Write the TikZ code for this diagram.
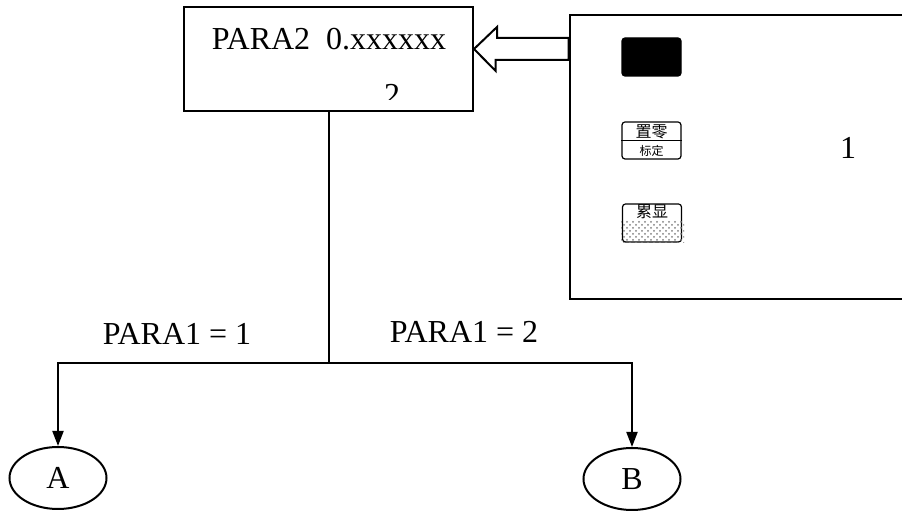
\documentclass[tikz,border=0pt]{standalone}
\usepackage{fontspec}
\setmainfont{Liberation Serif}
\newfontfamily\cjk{Noto Sans CJK SC}
\usetikzlibrary{arrows.meta, positioning, shapes.geometric, patterns}

\begin{document}
\begin{tikzpicture}[
    x=0.5pt, y=-0.5pt,
    >={Triangle[length=7.5pt, width=5.5pt]},
    line width=1pt,
    box/.style={
        draw, rectangle, inner sep=0pt, line width=1pt
    },
    oval/.style={
        draw, ellipse, inner sep=0pt, minimum width=48.5pt, minimum height=31pt,
        font=\fontsize{16}{19}\selectfont
    },
    label/.style={
        anchor=base, inner sep=0pt, font=\fontsize{16}{19}\selectfont
    },
    keycap/.style={
        draw, rectangle, rounded corners=1.5pt, inner sep=0pt, line width=0.6pt,
        minimum width=29.5pt
    },
    keytext/.style={
        inner sep=0pt, font=\cjk\fontsize{8}{9}\selectfont
    },
]
\clip (0,0) rectangle (902,513);

% ── Nodes ──
\node[box, minimum width=144.5pt, minimum height=52pt] (para2box) at (328.5,59) {};
\node[label] (para2text) at (329,50) {PARA2\ \ 0.xxxxxx};

\node[box, line width=1.3pt, minimum width=172.5pt, minimum height=142pt] (keypanel) at (742.5,157) {};
\node[label] (panelno) at (848,159) {1};

% ── Keys on the panel ──
\node[keycap, fill=black, minimum height=19pt] (blackkey) at (651.5,57) {};

\node[keycap, minimum height=18.5pt] (zerokey) at (651.5,140.5) {};
\draw[line width=0.6pt] (zerokey.west) -- (zerokey.east);
\node[keytext] (zerotop) at (651.5,131.5) {置零};
\node[keytext, font=\cjk\fontsize{6}{7}\selectfont] (zerobot) at (651.5,151) {标定};

\node[keycap, minimum height=19pt] (sumkey) at (652,223) {};
\fill[pattern=crosshatch dots, pattern color=gray] (621,221) rectangle (684,243);
\node[keytext] (sumtop) at (652,212) {累显};

% ── Partly hidden box number ──
\begin{scope}
    \clip (370,70) rectangle (420,100);
    \node[label] (boxno) at (392,106) {2};
\end{scope}

% ── Hollow arrow from panel to box ──
\coordinate (arrowtip) at (para2box.east |- 0,49);
\draw[line width=1pt] (arrowtip) -- ++(23,-22) -- ++(0,11) -- (keypanel.west |- 0,38)
    -- (keypanel.west |- 0,60) -- ++(-73,0) -- ++(0,11) -- cycle;

% ── Branch ──
\node[oval] (nodeA) at (58,478) {A};
\node[oval] (nodeB) at (632,479) {B};

\coordinate (junction) at (para2box.south |- 0,363);
\coordinate (leftturn) at (nodeA.north |- junction);
\coordinate (rightturn) at (nodeB.north |- junction);

\draw (para2box.south) -- (junction);
\draw[->] (junction) -- (leftturn) -- (nodeA.north);
\draw[->] (junction) -- (rightturn) -- (nodeB.north);

\node[label] (leftcase) at (177,345) {PARA1 = 1};
\node[label] (rightcase) at (464,343) {PARA1 = 2};

\end{tikzpicture}
\end{document}
